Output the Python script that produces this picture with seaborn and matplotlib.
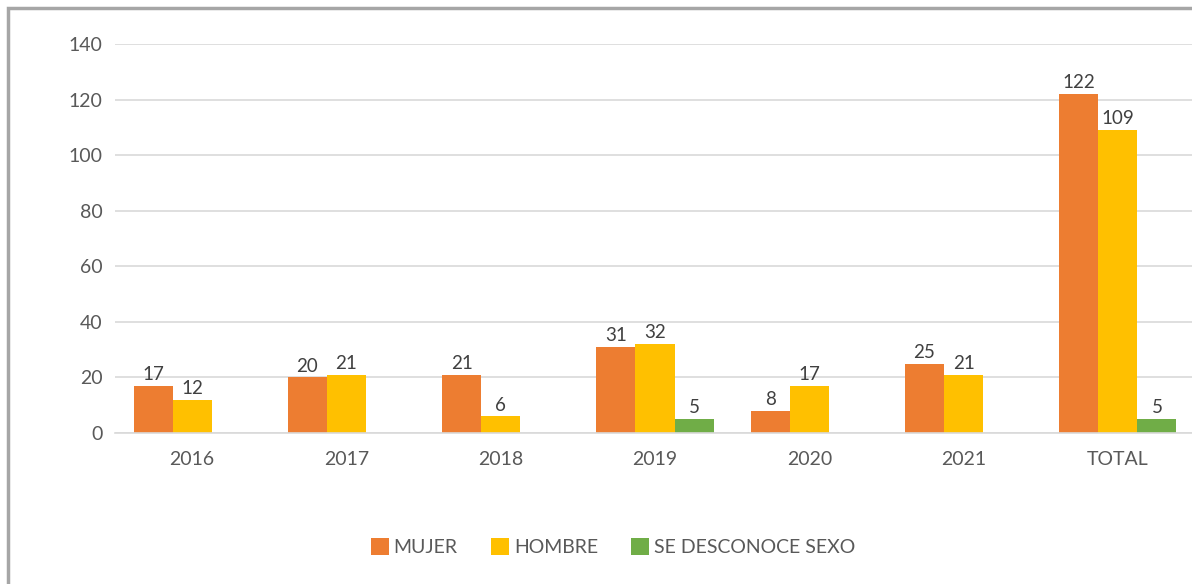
import matplotlib
matplotlib.use("Agg")
import matplotlib.pyplot as plt
import seaborn as sns
import pandas as pd
from matplotlib.patches import Rectangle

categories = ["2016", "2017", "2018", "2019", "2020", "2021", "TOTAL"]
mujer = [17, 20, 21, 31, 8, 25, 122]
hombre = [12, 21, 6, 32, 17, 21, 109]
desconoce = [0, 0, 0, 5, 0, 0, 5]
series_names = ["MUJER", "HOMBRE", "SE DESCONOCE SEXO"]
colors = ["#ED7D31", "#FFC000", "#70AD47"]
yticks = [0, 20, 40, 60, 80, 100, 120, 140]

rows = []
for name, vals in zip(series_names, [mujer, hombre, desconoce]):
    for c, v in zip(categories, vals):
        rows.append({"cat": c, "serie": name, "val": v})
df = pd.DataFrame(rows)

sns.set_theme(style="white")
plt.rcParams["font.family"] = ["Lato", "DejaVu Sans"]

W, H = 1192, 584
fig = plt.figure(figsize=(W / 100, H / 100), dpi=100)
ax = fig.add_axes([115 / W, 1 - 433 / H, (1195 - 115) / W, (433 - 44) / H])

sns.barplot(data=df, x="cat", y="val", hue="serie", order=categories,
            hue_order=series_names, palette=colors, width=0.76,
            saturation=1, ax=ax, legend=True, errorbar=None, linewidth=0)

for cont in ax.containers:
    labels = [f"{int(b.get_height())}" if b.get_height() > 0 else "" for b in cont]
    ax.bar_label(cont, labels=labels, padding=2, fontsize=13.5, color="#404040")

ax.set_ylim(0, 140)
ax.set_xlim(-0.5, 6.5)
ax.set_yticks(yticks)
ax.yaxis.grid(True, color="#d9d9d9", linewidth=1.2)
ax.set_axisbelow(True)
for s in ["top", "right", "left"]:
    ax.spines[s].set_visible(False)
ax.spines["bottom"].set_color("#d9d9d9")
ax.spines["bottom"].set_linewidth(1.2)
ax.set_xlabel("")
ax.set_ylabel("")
ax.tick_params(axis="y", labelsize=14, labelcolor="#595959", length=0, pad=9)
ax.tick_params(axis="x", labelsize=14, labelcolor="#595959", length=0, pad=13)

leg = ax.legend(loc="center", bbox_to_anchor=(613 / W, 1 - 547 / H),
                bbox_transform=fig.transFigure, ncol=3, frameon=False,
                fontsize=14, handlelength=0.93, handleheight=0.93,
                handletextpad=0.26, columnspacing=1.7)
for t in leg.get_texts():
    t.set_color("#595959")

fig.patches.append(Rectangle((8 / W, -0.01), 1.1, 1 - 8 / H + 0.01,
                             transform=fig.transFigure, fill=False,
                             edgecolor="#a6a6a6", linewidth=2.5))

fig.savefig("out.png", dpi=100)
